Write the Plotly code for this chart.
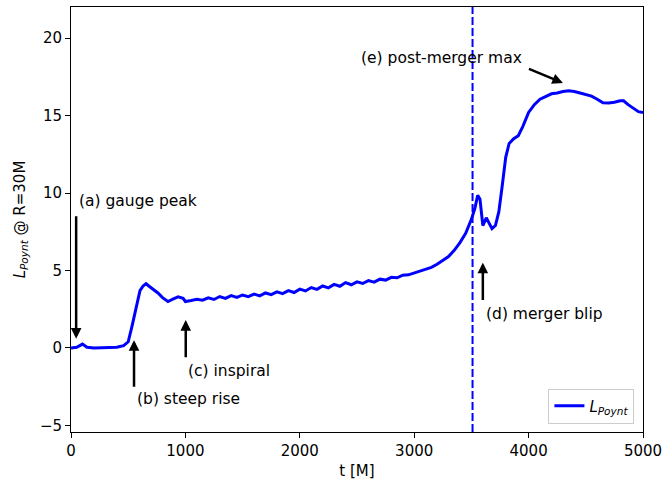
import plotly.graph_objects as go

t = [0, 50, 100, 140, 200, 300, 400, 460, 500, 533, 570, 603, 630, 656, 680, 708, 760, 800, 848, 890, 936, 980,
     1000, 1050, 1100, 1150, 1200, 1250, 1300, 1350, 1400, 1450, 1500, 1550, 1600, 1650, 1700, 1750, 1800, 1850,
     1900, 1950, 2000, 2050, 2100, 2150, 2200, 2250, 2300, 2350, 2400, 2450, 2500, 2550, 2600, 2650, 2700, 2750,
     2800, 2850, 2900, 2950, 3000, 3050, 3100, 3150, 3200, 3250, 3300, 3350, 3400, 3450, 3500, 3530, 3555, 3575,
     3600, 3630, 3655, 3680, 3710, 3740, 3770, 3800, 3830, 3870, 3910, 3950, 4000, 4050, 4100, 4150, 4200, 4250,
     4300, 4350, 4400, 4450, 4500, 4550, 4600, 4650, 4700, 4750, 4800, 4830, 4870, 4920, 4960, 5000]
L = [0.0, 0.05, 0.25, 0.05, 0.0, 0.02, 0.05, 0.15, 0.4, 1.4, 2.6, 3.7, 4.0, 4.15, 4.0, 3.85, 3.55, 3.25, 3.0, 3.15, 3.3, 3.2,
     3.0, 3.07, 3.15, 3.08, 3.24, 3.13, 3.32, 3.2, 3.38, 3.26, 3.42, 3.31, 3.48, 3.36, 3.55, 3.44, 3.62, 3.51,
     3.7, 3.58, 3.8, 3.68, 3.9, 3.78, 4.0, 3.88, 4.1, 3.98, 4.22, 4.08, 4.27, 4.16, 4.35, 4.25, 4.44, 4.38,
     4.56, 4.53, 4.7, 4.72, 4.85, 4.95, 5.1, 5.2, 5.4, 5.65, 5.9, 6.3, 6.8, 7.4, 8.3, 9.0, 9.85, 9.6,
     7.9, 8.4, 8.0, 7.7, 7.9, 8.8, 10.5, 12.3, 13.2, 13.5, 13.7, 14.3, 15.2, 15.7, 16.05, 16.25, 16.4, 16.45,
     16.55, 16.6, 16.55, 16.45, 16.35, 16.25, 16.05, 15.82, 15.8, 15.85, 15.95, 15.95, 15.7, 15.45, 15.25, 15.2]

t_merger = 3510

# annotations: (text, text_x, text_y, head_x, head_y, tail_x, tail_y)
labels = ["(a) gauge peak", "(b) steep rise", "(c) inspiral", "(d) merger blip", "(e) post-merger max"]
text_x = [55, 560, 1005, 3610, 3960]
text_y = [9.5, -3.3, -1.5, 2.2, 18.7]
head_x = [45, 551, 1003, 3600, 4300]
head_y = [0.6, 0.5, 1.8, 5.5, 17.1]
tail_x = [45, 551, 1003, 3600, 3990]
tail_y = [8.6, -2.6, -0.7, 3.0, 18.05]

fig = go.Figure()
fig.add_trace(go.Scatter(x=t, y=L, mode="lines", line=dict(color="#0000ff", width=3),
                         name="<i>L<sub>Poynt</sub></i>"))

fig.add_shape(type="line", x0=t_merger, x1=t_merger, y0=0, y1=1, xref="x", yref="paper",
              line=dict(color="#0000ff", width=2, dash="8px,3px"))

font = dict(family="DejaVu Sans", size=15.5, color="black")
for i, lab in enumerate(labels):
    fig.add_annotation(x=text_x[i], y=text_y[i], text=lab, showarrow=False, font=font,
                       xanchor="right" if i == 4 else "left", yanchor="middle")
    fig.add_annotation(x=head_x[i], y=head_y[i], ax=tail_x[i], ay=tail_y[i], axref="x", ayref="y",
                       text="", showarrow=True, arrowhead=2, arrowsize=0.85, arrowwidth=2.5,
                       arrowcolor="black", standoff=0, startstandoff=0)

axis_common = dict(showline=True, linecolor="black", linewidth=1, mirror=True, ticks="outside",
                   ticklen=5, tickwidth=1, tickcolor="black", showgrid=False, zeroline=False,
                   tickfont=dict(family="DejaVu Sans", size=15, color="black"))
fig.update_xaxes(range=[0, 5000], tickvals=[0, 1000, 2000, 3000, 4000, 5000],
                 title=dict(text="t [M]", font=dict(family="DejaVu Sans", size=15, color="black"), standoff=9),
                 **axis_common)
fig.update_yaxes(range=[-5.42, 22], tickvals=[-5, 0, 5, 10, 15, 20],
                 title=dict(text="<i>L<sub>Poynt</sub></i> @ R=30M",
                            font=dict(family="DejaVu Sans", size=15, color="black"), standoff=10),
                 **axis_common)

fig.update_layout(width=664, height=480, margin=dict(l=71, r=21, t=7, b=48, autoexpand=False),
                  plot_bgcolor="white", paper_bgcolor="white", showlegend=True,
                  legend=dict(x=0.985, y=0.02, xanchor="right", yanchor="bottom", bgcolor="white",
                              bordercolor="#cccccc", borderwidth=1,
                              font=dict(family="DejaVu Sans", size=15, color="black")))

fig.write_html("out.html", config={"displayModeBar": False},
               post_script="document.body.style.margin='0';document.body.style.overflow='hidden';")
